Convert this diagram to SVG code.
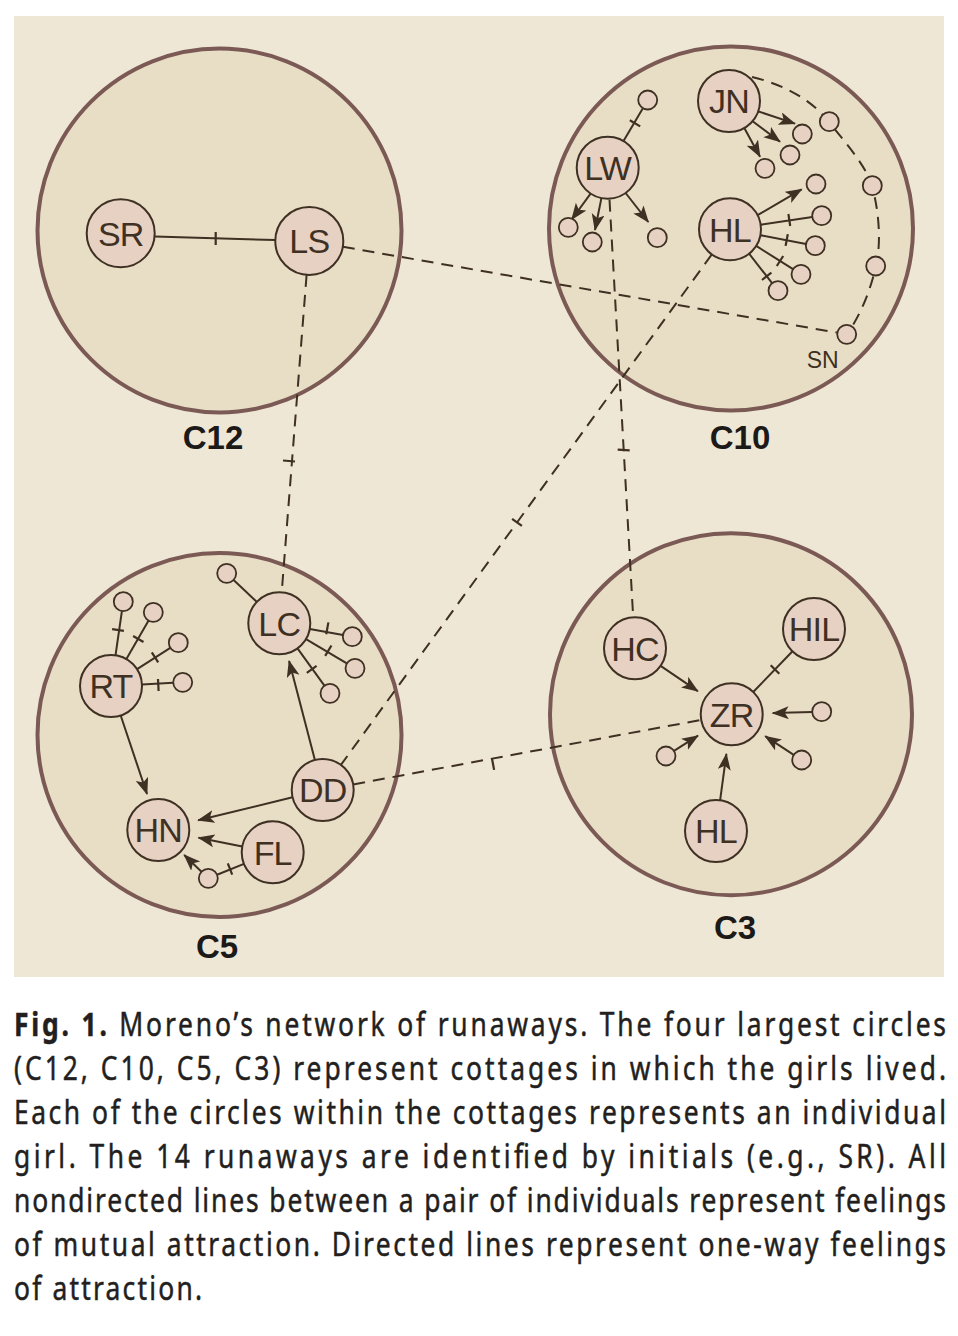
<svg xmlns="http://www.w3.org/2000/svg" width="958" height="1336" viewBox="0 0 958 1336">
<defs>
<style>
.cot{fill:#e8dec5;stroke:#7b5a55;stroke-width:4}
.nd{fill:#e6d1c3;stroke:#3e3022;stroke-width:2}
.sm{fill:#e6d1c3;stroke:#3e3022;stroke-width:1.8}
.lb{font-family:"Liberation Sans",Arial,sans-serif;font-size:34px;fill:#3e3022;text-anchor:middle;letter-spacing:-0.8px}
.cl{font-family:"Liberation Sans",Arial,sans-serif;font-size:33px;font-weight:bold;fill:#1c1a18;text-anchor:middle}
.ln{stroke:#3e3022;stroke-width:2;fill:none}
.ds{stroke:#3e3022;stroke-width:2;fill:none;stroke-dasharray:12 8}
.tk{stroke:#3e3022;stroke-width:2.2;fill:none}
.ar{stroke:#3e3022;stroke-width:2;fill:none;marker-end:url(#ah)}
.cap{font-family:"Noto Sans","Open Sans","DejaVu Sans",sans-serif;font-size:33px;fill:#231f20;stroke:#231f20;stroke-width:0.5}
</style>
<marker id="ah" markerUnits="userSpaceOnUse" markerWidth="18" markerHeight="14" refX="16" refY="6.5" orient="auto">
<path d="M0,0 L17,6.5 L0,13 L4,6.5 z" fill="#3e3022"/>
</marker>
</defs>
<rect x="0" y="0" width="958" height="1336" fill="#ffffff"/>
<rect x="14" y="16" width="930" height="961" fill="#efe7d5"/>

<g id="cottages">
<g id="C12"><circle class="cot" cx="219.5" cy="230.5" r="182"/><text class="cl" x="213" y="449">C12</text></g>
<g id="C10"><circle class="cot" cx="731" cy="228.5" r="182"/><text class="cl" x="740" y="449">C10</text></g>
<g id="C5"><circle class="cot" cx="219.5" cy="735" r="182"/><text class="cl" x="217" y="958">C5</text></g>
<g id="C3"><circle class="cot" cx="731" cy="714.2" r="181"/><text class="cl" x="735" y="939">C3</text></g>
</g>

<g id="connectors">
<!-- C12 -->
<line class="ln" x1="155" y1="236.5" x2="275.5" y2="240"/>
<line class="tk" x1="215.7" y1="232" x2="215.7" y2="245"/>
<!-- cross-cottage dashed -->
<line class="ds" x1="342.8" y1="246.8" x2="836.9" y2="332.6"/>
<line class="ds" x1="306.6" y1="274.9" x2="281.7" y2="592.4"/>
<line class="tk" x1="283" y1="460.5" x2="295" y2="461.5"/>
<line class="ds" x1="609.5" y1="199.6" x2="633.2" y2="617.3"/>
<line class="tk" x1="617.7" y1="449.7" x2="629.7" y2="450.3"/>
<line class="ds" x1="711.8" y1="254.4" x2="340.9" y2="764.9"/>
<line class="tk" x1="512.1" y1="518.8" x2="521.9" y2="525.8"/>
<line class="ds" x1="353.2" y1="784.4" x2="701.2" y2="719.9"/>
<line class="tk" x1="491.9" y1="758.1" x2="494.1" y2="769.9"/>
<!-- C10 dashed arc -->
<path class="ds" d="M752,77 C790,86 815,104 829,122 S866,165 872,186 S882,240 876,266 S860,316 847,334"/>
<!-- LW -->
<line class="ln" x1="623.5" y1="141" x2="642.9" y2="108.2"/>
<line class="tk" x1="629.8" y1="120.2" x2="640.2" y2="126.4"/>
<line class="ar" x1="590.6" y1="193.6" x2="571.7" y2="219.5"/>
<line class="ar" x1="601.4" y1="198.1" x2="595" y2="230"/>
<line class="ar" x1="625.6" y1="193" x2="648.3" y2="222"/>
<!-- JN -->
<line class="ar" x1="757.8" y1="111.2" x2="795" y2="123.6"/>
<line class="ar" x1="752.6" y1="121.3" x2="780" y2="141.7"/>
<line class="ar" x1="744.3" y1="128" x2="760" y2="156.7"/>
<!-- HL C10 -->
<line class="ar" x1="757.6" y1="215.2" x2="801.7" y2="189.3"/>
<line class="ln" x1="760.7" y1="224.7" x2="812.3" y2="217.1"/>
<line class="tk" x1="788.4" y1="214" x2="790.2" y2="226"/>
<line class="ln" x1="760.4" y1="235.2" x2="806" y2="243.9"/>
<line class="tk" x1="787.8" y1="234.1" x2="785.6" y2="245.9"/>
<line class="ln" x1="756.2" y1="245.9" x2="793" y2="269.2"/>
<line class="tk" x1="783.2" y1="256" x2="776.8" y2="266"/>
<line class="ln" x1="749.1" y1="253.7" x2="772.1" y2="283.2"/>
<line class="tk" x1="771.4" y1="272.6" x2="762" y2="280"/>
<!-- C5 -->
<line class="ar" x1="120.7" y1="715.5" x2="147" y2="794"/>
<line class="ar" x1="292.6" y1="797.3" x2="198.2" y2="820.3"/>
<line class="ar" x1="242.3" y1="846.4" x2="198.5" y2="837.8"/>
<line class="ar" x1="314.9" y1="760" x2="289.1" y2="661"/>
<line class="ln" x1="243.9" y1="863.9" x2="217.1" y2="874.7"/>
<line class="tk" x1="227.8" y1="863.4" x2="232.2" y2="874.6"/>
<line class="ar" x1="201.5" y1="871.7" x2="184.2" y2="855"/>
<line class="ln" x1="115.5" y1="655.3" x2="121.9" y2="611.2"/>
<line class="tk" x1="112.1" y1="629.1" x2="123.9" y2="630.9"/>
<line class="ln" x1="126.4" y1="659.1" x2="148.6" y2="620.5"/>
<line class="tk" x1="133.1" y1="636" x2="143.5" y2="642"/>
<line class="ln" x1="137.1" y1="669.2" x2="170.3" y2="647.8"/>
<line class="tk" x1="151.8" y1="652.3" x2="158.2" y2="662.3"/>
<line class="ln" x1="142" y1="684.4" x2="173.2" y2="682.8"/>
<line class="tk" x1="158" y1="679" x2="158.6" y2="691"/>
<line class="ln" x1="256.8" y1="601.9" x2="233.6" y2="579.9"/>
<line class="ln" x1="309.8" y1="628.9" x2="343" y2="635"/>
<line class="tk" x1="328.4" y1="622.4" x2="326.2" y2="634.2"/>
<line class="ln" x1="306" y1="639.1" x2="346.8" y2="663.4"/>
<line class="tk" x1="331.4" y1="645.5" x2="325.2" y2="655.9"/>
<line class="ln" x1="297.5" y1="648.4" x2="324.4" y2="685.6"/>
<line class="tk" x1="316.6" y1="665.8" x2="306.8" y2="672.8"/>
<!-- C3 -->
<line class="ar" x1="660.6" y1="665.8" x2="697.8" y2="691.2"/>
<line class="ln" x1="792.5" y1="651.3" x2="753.2" y2="692"/>
<line class="tk" x1="770.7" y1="665.3" x2="779.3" y2="673.7"/>
<line class="ar" x1="812.2" y1="712" x2="772.7" y2="713.1"/>
<line class="ar" x1="793.7" y1="754.8" x2="765.2" y2="736.2"/>
<line class="ar" x1="674" y1="750.9" x2="698" y2="735.7"/>
<line class="ar" x1="720.1" y1="800.3" x2="726.4" y2="753.9"/>
</g>

<g id="nodes">
<g id="SR"><circle class="nd" cx="120.7" cy="233.3" r="34"/><text class="lb" x="120.7" y="245.5">SR</text></g>
<g id="LS"><circle class="nd" cx="309.3" cy="241" r="34"/><text class="lb" x="309.3" y="253">LS</text></g>

<g id="LW"><circle class="nd" cx="607.7" cy="167.7" r="31"/><text class="lb" x="607.7" y="180">LW</text></g>
<g id="JN"><circle class="nd" cx="729" cy="101" r="31"/><text class="lb" x="729" y="113">JN</text></g>
<g id="HL10"><circle class="nd" cx="730" cy="229.3" r="31"/><text class="lb" x="730" y="241.5">HL</text></g>
<g id="c10-small">
<circle class="sm" cx="647.7" cy="100" r="9.5"/>
<circle class="sm" cx="568.3" cy="227.3" r="9.5"/>
<circle class="sm" cx="592.3" cy="242" r="9.5"/>
<circle class="sm" cx="657.3" cy="237.7" r="9.5"/>
<circle class="sm" cx="802.3" cy="134" r="9.5"/>
<circle class="sm" cx="790" cy="155" r="9.5"/>
<circle class="sm" cx="765" cy="168.3" r="9.5"/>
<circle class="sm" cx="816" cy="184" r="9.5"/>
<circle class="sm" cx="821.7" cy="215.7" r="9.5"/>
<circle class="sm" cx="815.3" cy="245.7" r="9.5"/>
<circle class="sm" cx="801" cy="274.3" r="9.5"/>
<circle class="sm" cx="778" cy="290.7" r="9.5"/>
<circle class="sm" cx="829.3" cy="121.7" r="9.5"/>
<circle class="sm" cx="872.3" cy="185.7" r="9.5"/>
<circle class="sm" cx="875.7" cy="266" r="9.5"/>
</g>
<g id="SN"><circle class="sm" cx="846.7" cy="334.3" r="9.5"/><text x="822.7" y="368" font-family="Liberation Sans,Arial,sans-serif" font-size="23" fill="#3e3022" text-anchor="middle">SN</text></g>

<g id="RT"><circle class="nd" cx="111" cy="686" r="31"/><text class="lb" x="111" y="698">RT</text></g>
<g id="HN"><circle class="nd" cx="158.3" cy="830" r="31"/><text class="lb" x="158.3" y="842">HN</text></g>
<g id="FL"><circle class="nd" cx="272.7" cy="852.3" r="31"/><text class="lb" x="272.7" y="864.5">FL</text></g>
<g id="DD"><circle class="nd" cx="322.7" cy="790" r="31"/><text class="lb" x="322.7" y="802">DD</text></g>
<g id="LC"><circle class="nd" cx="279.3" cy="623.3" r="31"/><text class="lb" x="279.3" y="635.5">LC</text></g>
<g id="c5-small">
<circle class="sm" cx="123.3" cy="601.7" r="9.5"/>
<circle class="sm" cx="153.3" cy="612.3" r="9.5"/>
<circle class="sm" cx="178.3" cy="642.7" r="9.5"/>
<circle class="sm" cx="182.7" cy="682.3" r="9.5"/>
<circle class="sm" cx="226.7" cy="573.3" r="9.5"/>
<circle class="sm" cx="352.3" cy="636.7" r="9.5"/>
<circle class="sm" cx="355" cy="668.3" r="9.5"/>
<circle class="sm" cx="330" cy="693.3" r="9.5"/>
<circle class="sm" cx="208.3" cy="878.3" r="9.5"/>
</g>

<g id="HC"><circle class="nd" cx="635" cy="648.3" r="31"/><text class="lb" x="635" y="660.5">HC</text></g>
<g id="HIL"><circle class="nd" cx="814" cy="629" r="31"/><text class="lb" x="814" y="641">HIL</text></g>
<g id="ZR"><circle class="nd" cx="731.7" cy="714.3" r="31"/><text class="lb" x="731.7" y="726.5">ZR</text></g>
<g id="HL3"><circle class="nd" cx="716" cy="831" r="31"/><text class="lb" x="716" y="843">HL</text></g>
<g id="c3-small">
<circle class="sm" cx="821.7" cy="711.7" r="9.5"/>
<circle class="sm" cx="801.7" cy="760" r="9.5"/>
<circle class="sm" cx="666" cy="756" r="9.5"/>
</g>
</g>

<g id="caption" transform="scale(0.8,1)">
<text class="cap" x="17.5" y="1036" textLength="1165" lengthAdjust="spacing"><tspan font-weight="bold">Fig. 1.</tspan> Moreno’s network of runaways. The four largest circles</text>
<text class="cap" x="17.5" y="1080" textLength="1165" lengthAdjust="spacing">(C12, C10, C5, C3) represent cottages in which the girls lived.</text>
<text class="cap" x="17.5" y="1124" textLength="1165" lengthAdjust="spacing">Each of the circles within the cottages represents an individual</text>
<text class="cap" x="17.5" y="1168" textLength="1165" lengthAdjust="spacing">girl. The 14 runaways are identified by initials (e.g., SR). All</text>
<text class="cap" x="17.5" y="1212" textLength="1165" lengthAdjust="spacing">nondirected lines between a pair of individuals represent feelings</text>
<text class="cap" x="17.5" y="1256" textLength="1165" lengthAdjust="spacing">of mutual attraction. Directed lines represent one-way feelings</text>
<text class="cap" x="17.5" y="1300" textLength="235" lengthAdjust="spacing">of attraction.</text>
</g>
</svg>
